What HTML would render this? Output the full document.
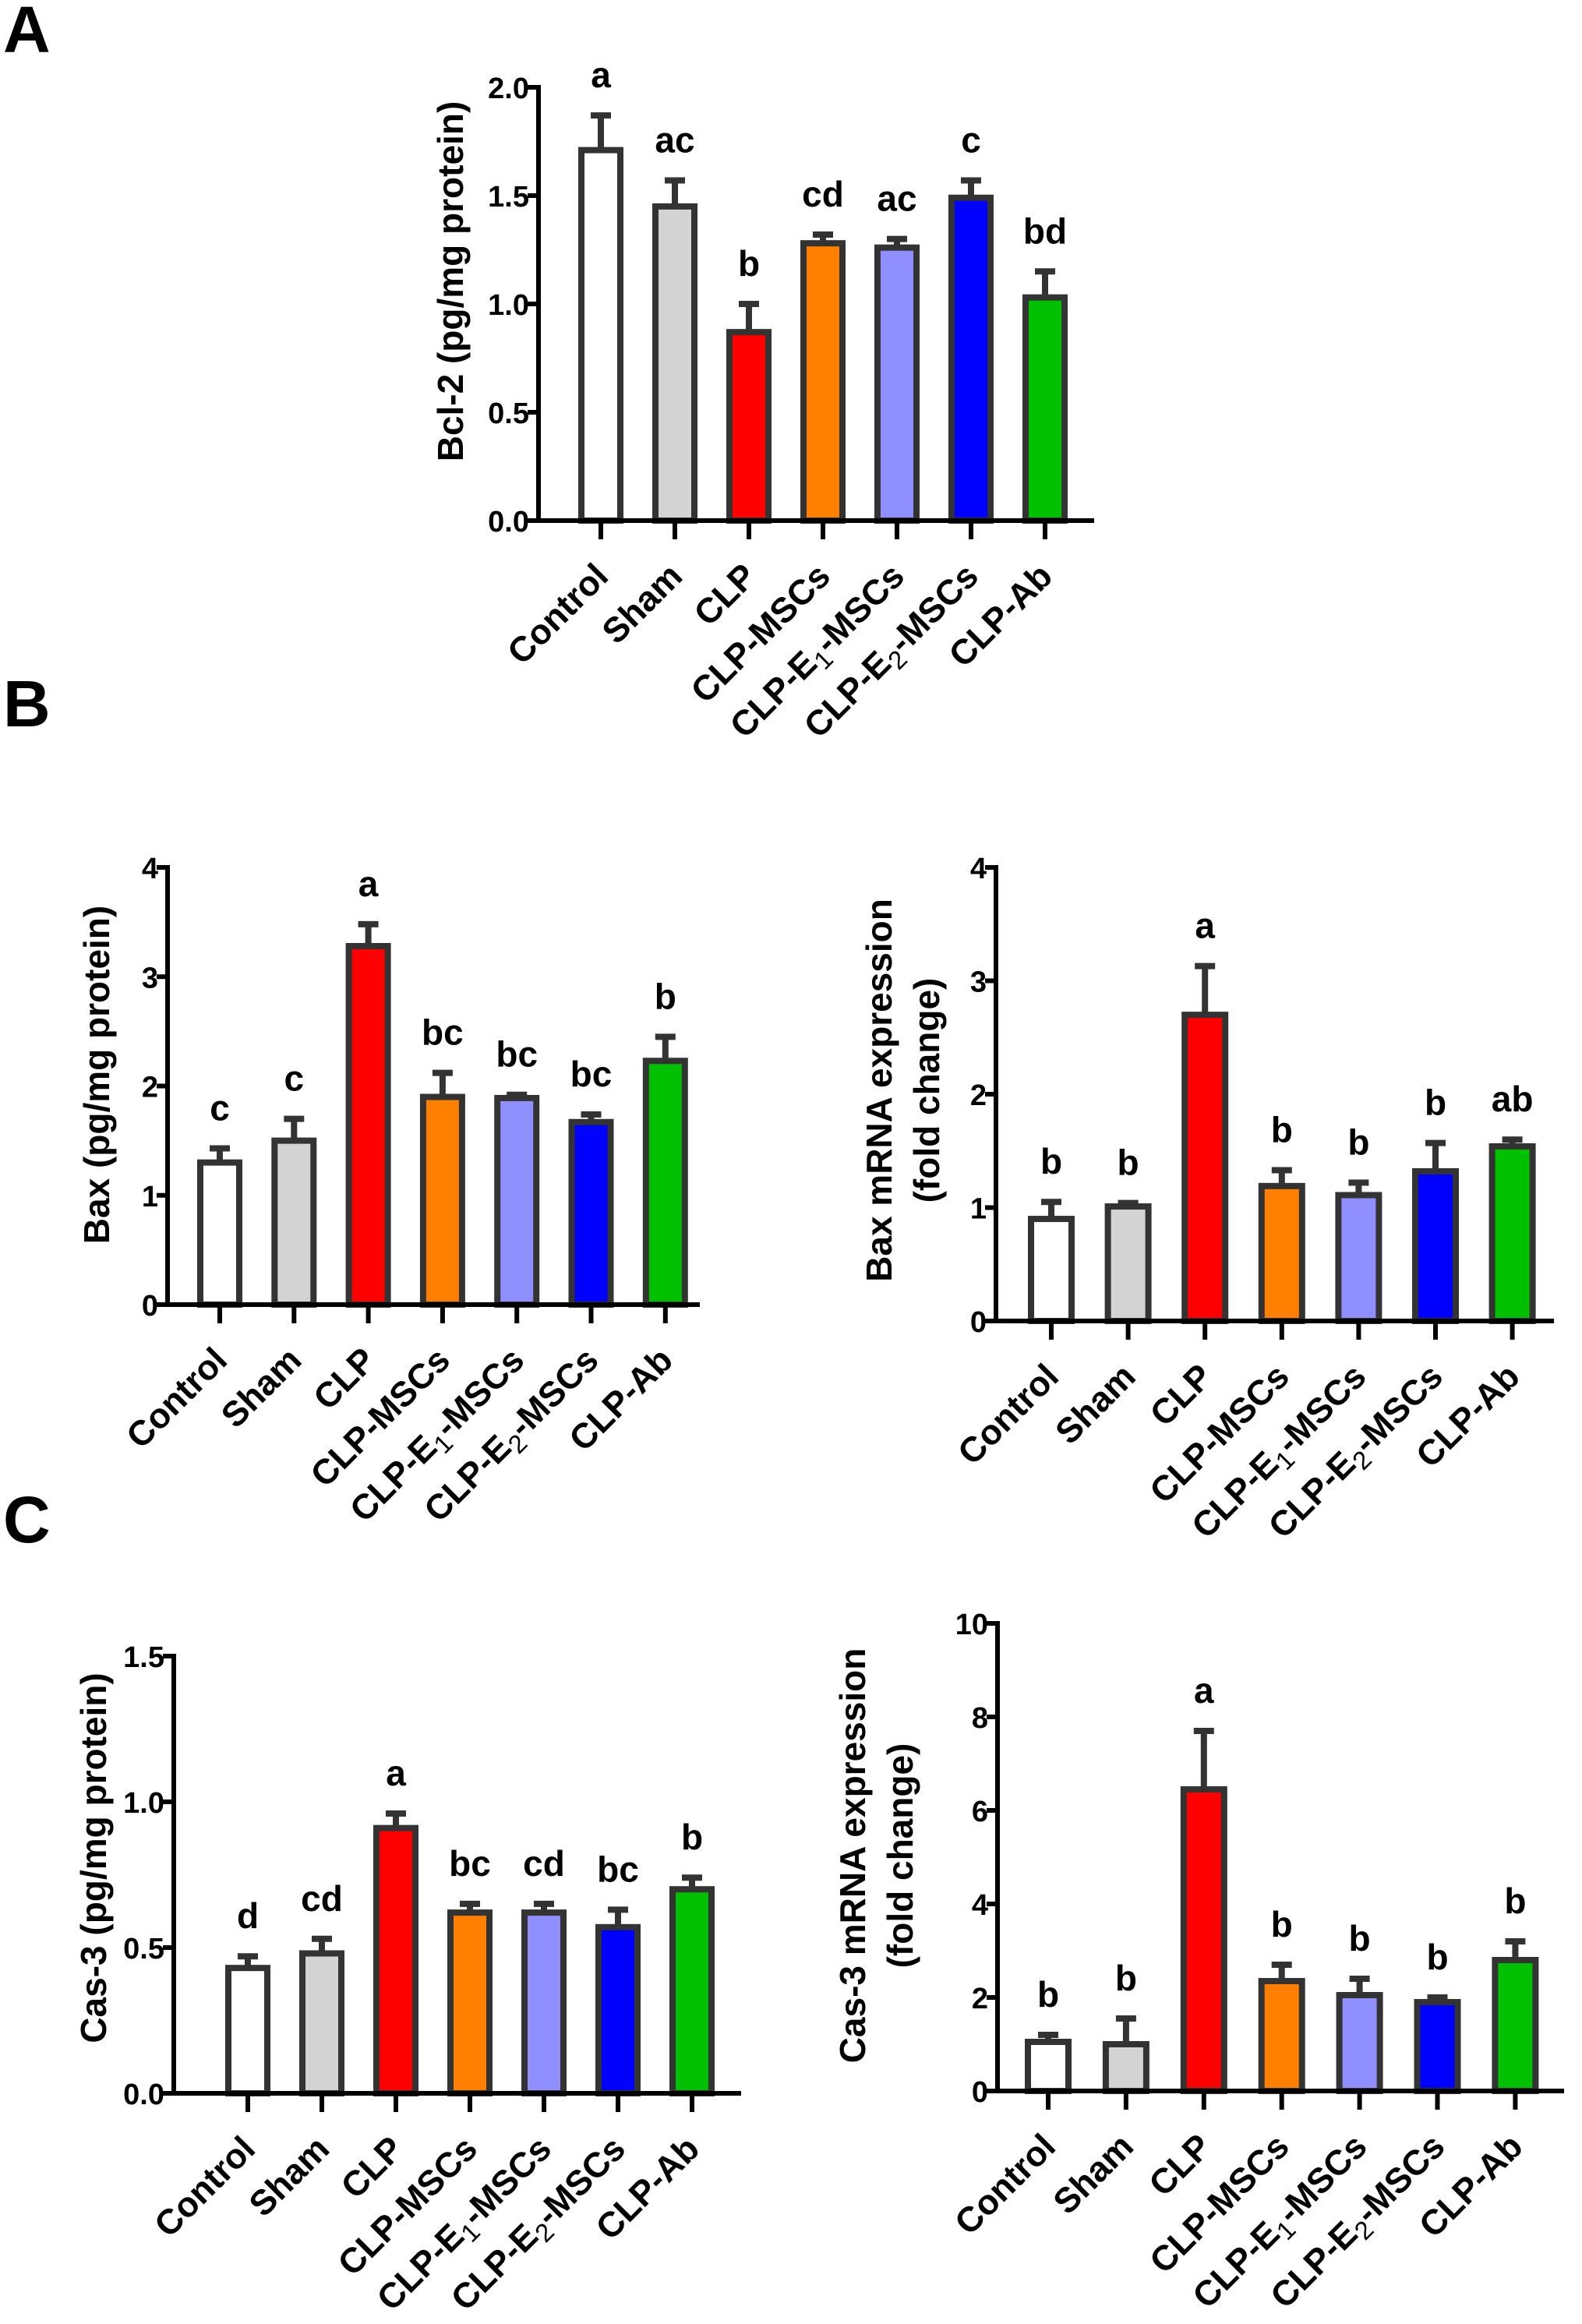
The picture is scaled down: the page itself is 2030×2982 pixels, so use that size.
<!DOCTYPE html>
<html><head><meta charset="utf-8"><style>
html,body{margin:0;padding:0;background:#fff;}
svg{display:block;font-family:"Liberation Sans",Arial,sans-serif;font-weight:bold;}
</style></head><body>
<svg id="fig" width="2030" height="2982" viewBox="0 0 2030 2982" xmlns="http://www.w3.org/2000/svg">
<text x="4" y="67" font-size="84">A</text>
<text x="4" y="932" font-size="84">B</text>
<text x="4" y="1979" font-size="84">C</text>
</svg>
<script>
const categories = ["Control","Sham","CLP","CLP-MSCs","CLP-E1-MSCs","CLP-E2-MSCs","CLP-Ab"];
const colors = ["#ffffff","#d3d3d3","#ff0000","#ff8000","#8f8fff","#0000ff","#00c000"];

const bcl2Values = [1.71,1.45,0.87,1.28,1.26,1.49,1.03];
const bcl2Errors = [1.87,1.57,1.00,1.32,1.30,1.57,1.15];
const bcl2Letters = ["a","ac","b","cd","ac","c","bd"];
const bcl2Ticks = ["0.0","0.5","1.0","1.5","2.0"];

const baxValues = [1.30,1.50,3.28,1.90,1.89,1.67,2.23];
const baxErrors = [1.43,1.70,3.48,2.12,1.92,1.74,2.45];
const baxLetters = ["c","c","a","bc","bc","bc","b"];
const baxTicks = ["0","1","2","3","4"];

const baxMrnaValues = [0.90,1.01,2.70,1.19,1.11,1.32,1.54];
const baxMrnaErrors = [1.05,1.04,3.13,1.33,1.22,1.57,1.60];
const baxMrnaLetters = ["b","b","a","b","b","b","ab"];
const baxMrnaTicks = ["0","1","2","3","4"];

const cas3Values = [0.43,0.48,0.91,0.62,0.62,0.57,0.70];
const cas3Errors = [0.47,0.53,0.96,0.65,0.65,0.63,0.74];
const cas3Letters = ["d","cd","a","bc","cd","bc","b"];
const cas3Ticks = ["0.0","0.5","1.0","1.5"];

const cas3MrnaValues = [1.05,1.00,6.45,2.35,2.05,1.90,2.80];
const cas3MrnaErrors = [1.20,1.55,7.70,2.70,2.40,2.00,3.20];
const cas3MrnaLetters = ["b","b","a","b","b","b","b"];
const cas3MrnaTicks = ["0","2","4","6","8","10"];

const NS = "http://www.w3.org/2000/svg";
const svg = document.getElementById("fig");
function mk(tag, attrs, parent){
  const e = document.createElementNS(NS, tag);
  for (const k in attrs) e.setAttribute(k, attrs[k]);
  (parent||svg).appendChild(e);
  return e;
}

function drawChart(cfg, values, errors, letters, ticks){
  const g = mk("g", {});
  
  
  const ymax = parseFloat(ticks[ticks.length-1]);
  const yScale = v => cfg.y0 - (v/ymax)*(cfg.y0-cfg.yTop);
  const xScale = i => cfg.cx0 + i*cfg.step;
  values.forEach((v,i)=>{
    const cx = xScale(i), yv = yScale(v), ye = yScale(errors[i]);
    const eb = mk("line",{x1:cx,x2:cx,y1:yv,y2:ye,stroke:"#333","stroke-width":8},g);
    
    
    const cap = mk("line",{x1:cx-13,x2:cx+13,y1:ye,y2:ye,stroke:"#333","stroke-width":8},g);
    
    
    const r = mk("rect",{x:cx-cfg.bw/2+4,y:yv,width:cfg.bw-8,height:cfg.y0-yv,fill:colors[i],stroke:"#333","stroke-width":8},g);
    
    
    const t = mk("text",{x:cx,y:ye-36,"font-size":46,"text-anchor":"middle"},g);
    t.textContent = letters[i];
    
    
    const tk = mk("line",{x1:cx,x2:cx,y1:cfg.y0,y2:cfg.y0+24,stroke:"#000","stroke-width":6},g);
    
    
    const lx = cx+12, ly = cfg.y0+74;
    const lt = mk("text",{x:lx,y:ly,"font-size":45,"text-anchor":"end",transform:`rotate(-45 ${lx} ${ly})`},g);
    
    
    const name = categories[i];
    const m = name.match(/^CLP-E(\d)-MSCs$/);
    if (m){
      lt.appendChild(document.createTextNode("CLP-E"));
      const s = mk("tspan",{"font-size":33,"font-weight":"normal",dy:10},lt);
      s.textContent = m[1];
      const s2 = mk("tspan",{dy:-10},lt);
      s2.textContent = "-MSCs";
    } else lt.textContent = name;
  });
  const ya = mk("line",{x1:cfg.ax,x2:cfg.ax,y1:cfg.yTop-3,y2:cfg.y0+3,stroke:"#000","stroke-width":6},g);
  
  
  const xa = mk("line",{x1:cfg.ax-14,x2:cfg.xEnd,y1:cfg.y0,y2:cfg.y0,stroke:"#000","stroke-width":6},g);
  
  
  ticks.forEach(tv=>{
    const y = yScale(parseFloat(tv));
    const l = mk("line",{x1:cfg.ax-14,x2:cfg.ax,y1:y,y2:y,stroke:"#000","stroke-width":6},g);
    
    
    const t = mk("text",{x:cfg.ax-12,y:y+14,"font-size":38,"text-anchor":"end"},g);
    t.textContent = tv;
    
    
  });
  const tcy = cfg.titleCY;
  cfg.title.forEach((line,k)=>{
    const tx = cfg.titleX[k];
    const t = mk("text",{x:tx,y:tcy,"font-size":46,"text-anchor":"middle","dominant-baseline":"central",transform:`rotate(-90 ${tx} ${tcy})`},g);
    t.textContent = line;
    
    
  });
}

drawChart({name:"bcl2-chart",ax:691,yTop:112,y0:668,xEnd:1404,cx0:771,step:95,bw:58,title:["Bcl-2 (pg/mg protein)"],titleX:[578],titleCY:361},
  bcl2Values,bcl2Errors,bcl2Letters,bcl2Ticks);
drawChart({name:"bax-chart",ax:215,yTop:1113,y0:1674,xEnd:898,cx0:282,step:95.3,bw:58,title:["Bax (pg/mg protein)"],titleX:[124],titleCY:1379},
  baxValues,baxErrors,baxLetters,baxTicks);
drawChart({name:"bax-mrna-chart",ax:1278,yTop:1113,y0:1695,xEnd:1994,cx0:1349,step:98.6,bw:60,title:["Bax mRNA expression","(fold change)"],titleX:[1128,1189],titleCY:1399},
  baxMrnaValues,baxMrnaErrors,baxMrnaLetters,baxMrnaTicks);
drawChart({name:"cas3-chart",ax:223,yTop:2125,y0:2686,xEnd:951,cx0:318,step:95,bw:58,title:["Cas-3 (pg/mg protein)"],titleX:[120],titleCY:2384},
  cas3Values,cas3Errors,cas3Letters,cas3Ticks);
drawChart({name:"cas3-mrna-chart",ax:1280,yTop:2083,y0:2683,xEnd:2007,cx0:1345,step:99.9,bw:60,title:["Cas-3 mRNA expression","(fold change)"],titleX:[1094,1155],titleCY:2381},
  cas3MrnaValues,cas3MrnaErrors,cas3MrnaLetters,cas3MrnaTicks);
</script>
</body></html>
